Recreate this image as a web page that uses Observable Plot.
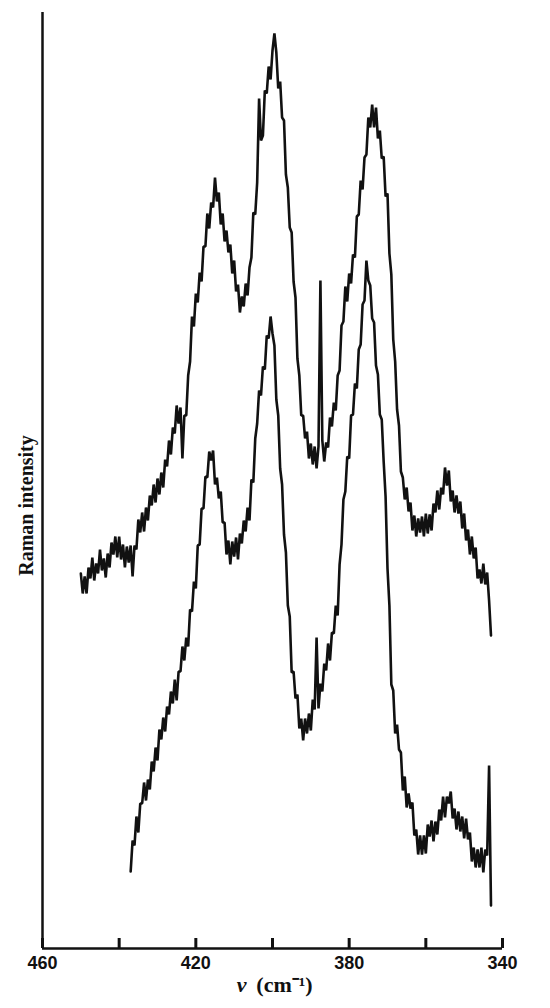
<!DOCTYPE html>
<html>
<head>
<meta charset="utf-8">
<script src="https://cdn.jsdelivr.net/npm/d3@7"></script>
<script src="https://cdn.jsdelivr.net/npm/@observablehq/plot@0.6"></script>
<style>
  html, body { margin: 0; padding: 0; background: #fff; }
</style>
</head>
<body>
<div id="chart"></div>
<script>
// Wavenumber grid (cm^-1), sampled every 0.5 cm^-1, descending
const upperStart = 450;
const lowerStart = 437;
const stepCm = 0.5;

// Upper spectrum, intensity (arbitrary units), from 450 down to 343 cm^-1
const upperIntensity = [
  375,355,372,355,381,370,391,368,385,375,
  399,378,390,371,395,381,406,394,412,391,
  412,389,404,381,402,386,403,372,403,399,
  429,416,436,417,441,428,453,443,464,446,
  470,454,476,461,489,482,508,494,521,515,
  543,525,541,490,533,533,573,587,632,622,
  655,646,676,667,702,702,735,720,746,741,
  771,747,756,724,735,707,718,696,704,675,
  688,657,664,636,652,642,665,653,681,691,
  736,734,766,850,808,813,858,855,882,869,
  898,915,896,860,867,831,828,774,761,721,
  716,667,651,590,573,533,533,510,517,490,
  505,484,502,480,502,668,508,487,506,501,
  531,522,546,538,573,578,623,627,662,647,
  675,665,694,691,732,734,768,759,791,794,
  831,821,844,821,841,810,818,790,792,752,
  755,695,674,609,587,539,523,477,471,449,
  461,437,446,418,433,412,430,416,432,412,
  435,415,434,418,445,436,458,439,461,454,
  481,463,478,447,458,436,453,435,447,420,
  435,408,419,394,412,390,401,370,379,365,
  385,364,376,348,313
];

// Lower spectrum, intensity (arbitrary units), from 437 down to 343 cm^-1
const lowerIntensity = [
  77,108,103,132,116,145,145,166,148,169,
  159,187,177,201,188,219,209,231,217,242,
  234,257,245,269,248,277,277,302,288,311,
  302,339,337,367,360,403,404,440,440,472,
  471,497,488,498,464,471,450,457,426,426,
  394,408,384,407,392,411,389,415,405,428,
  417,441,428,469,466,510,525,558,553,582,
  579,613,610,632,615,603,549,533,480,464,
  414,396,343,332,276,277,250,254,220,230,
  208,230,215,235,218,249,239,311,240,265,
  257,285,278,305,288,316,315,343,333,384,
  404,449,457,492,490,533,534,565,560,599,
  604,644,648,688,668,663,630,626,583,574,
  534,529,487,452,380,343,264,258,215,224,
  199,196,158,172,141,155,140,146,113,119,
  94,113,94,113,95,124,112,128,107,127,
  114,139,128,152,131,152,145,157,130,140,
  119,137,117,132,110,130,109,116,87,101,
  81,99,81,101,76,99,93,183,43
];

const xTickValues = [460, 440, 420, 400, 380, 360, 340];
const xTickLabels = [460, 420, 380, 340];
const xDomain = [460, 340];
const yDomain = [0, 936];
const yTitle = "Raman intensity";
const xTitleSymbol = "ν";
const xTitleUnit = "(cm⁻¹)";

const upper = upperIntensity.map((v, i) => ({nu: upperStart - i * stepCm, I: v}));
const lower = lowerIntensity.map((v, i) => ({nu: lowerStart - i * stepCm, I: v}));

const ink = "#111";
const serif = "Liberation Serif, Times New Roman, serif";

const chart = Plot.plot({
  width: 550,
  height: 1008,
  marginTop: 12,
  marginBottom: 60,
  marginLeft: 42,
  marginRight: 48,
  style: {background: "#fff", color: ink},
  x: {domain: xDomain},
  y: {domain: yDomain, axis: null},
  marks: [
    Plot.line(upper, {x: "nu", y: "I", stroke: ink, strokeWidth: 2.6, strokeLinejoin: "miter"}),
    Plot.line(lower, {x: "nu", y: "I", stroke: ink, strokeWidth: 2.6, strokeLinejoin: "miter"}),
    Plot.ruleX([xDomain[0]], {stroke: ink, strokeWidth: 2.5}),
    Plot.ruleY([yDomain[0]], {stroke: ink, strokeWidth: 2.5}),
    Plot.axisX(xTickValues, {tickSize: -10, strokeWidth: 3, tickFormat: () => "", label: null}),
    Plot.axisX(xTickLabels, {tickSize: 0, tickPadding: 8, fontSize: 18, fontWeight: "bold",
      fontFamily: "Liberation Sans, Arial, sans-serif", label: null, fill: ink}),
    Plot.text([yTitle], {frameAnchor: "left", textAnchor: "middle", rotate: -90, dx: -16, dy: 25,
      fontFamily: serif, fontWeight: "bold", fontSize: 20, fill: ink}),
    Plot.text([xTitleSymbol], {frameAnchor: "bottom", textAnchor: "middle", dx: -31, dy: 43,
      fontFamily: serif, fontStyle: "italic", fontWeight: "bold", fontSize: 22, fill: ink}),
    Plot.text([xTitleUnit], {frameAnchor: "bottom", textAnchor: "middle", dx: 12, dy: 43,
      fontFamily: serif, fontWeight: "bold", fontSize: 22, fill: ink})
  ]
});

document.getElementById("chart").appendChild(chart);
</script>
</body>
</html>
